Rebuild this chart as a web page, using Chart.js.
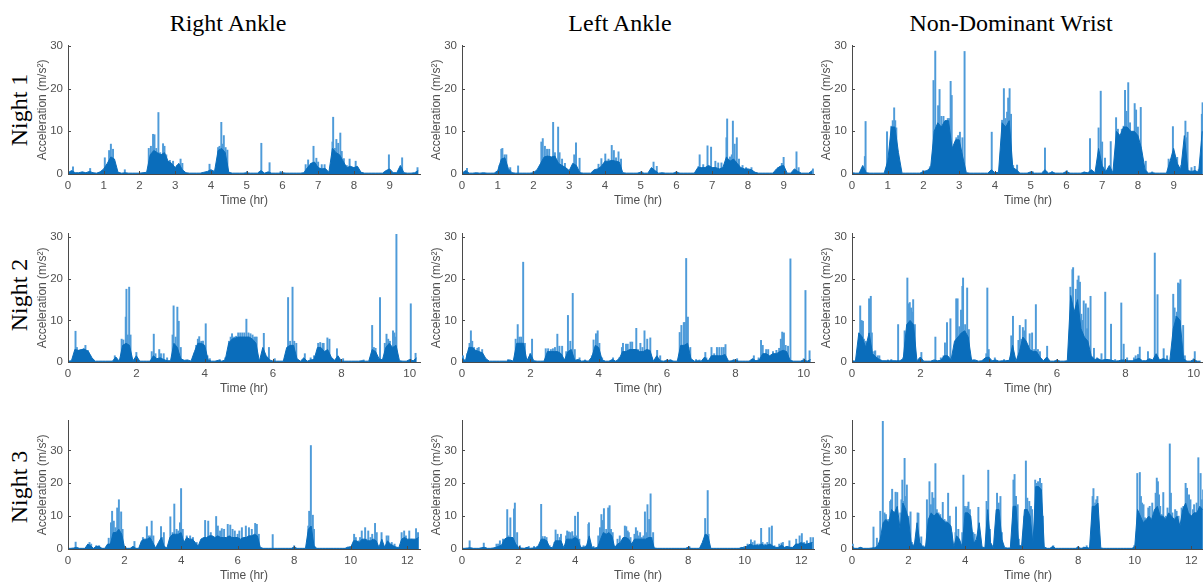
<!DOCTYPE html>
<html><head><meta charset="utf-8">
<script src="https://cdn.jsdelivr.net/npm/chart.js@4.4.1/dist/chart.umd.min.js"></script>
<style>
html,body{margin:0;padding:0;background:#fff;width:1203px;height:584px;overflow:hidden;position:relative;}
canvas{position:absolute;}
.title{position:absolute;font-family:"Liberation Serif","Times New Roman",serif;font-size:24px;color:#000;white-space:nowrap;transform:translateX(-50%);line-height:1;}
.night{position:absolute;font-family:"Liberation Serif","Times New Roman",serif;font-size:24px;color:#000;white-space:nowrap;transform:translate(-50%,-50%) rotate(-90deg);line-height:1;}
</style></head><body>
<div class="title" style="left:228px;top:11px">Right Ankle</div>
<div class="title" style="left:620px;top:11px">Left Ankle</div>
<div class="title" style="left:1011px;top:11px">Non-Dominant Wrist</div>
<div class="night" style="left:19px;top:110px">Night 1</div>
<div class="night" style="left:19px;top:295px">Night 2</div>
<div class="night" style="left:19px;top:487px">Night 3</div>
<canvas id="c11"></canvas><canvas id="c12"></canvas><canvas id="c13"></canvas>
<canvas id="c21"></canvas><canvas id="c22"></canvas><canvas id="c23"></canvas>
<canvas id="c31"></canvas><canvas id="c32"></canvas><canvas id="c33"></canvas>
<script>
// ---------- tick labels ----------
const yTicks = [0, 10, 20, 30];
const xTicksN1 = [0, 1, 2, 3, 4, 5, 6, 7, 8, 9];
const xTicksN2 = [0, 2, 4, 6, 8, 10];
const xTicksN3 = [0, 2, 4, 6, 8, 10, 12];
const xMaxN1 = 9.85, xMaxN2 = 10.3, xMaxN3 = 12.45;
const yMaxN1 = 30, yMaxN2 = 30.8, yMaxN3 = 39;
const BASE_STEP = 0.1; // hours between dense-activity samples

// ---------- Night 1 ----------
const ra1Base = [
0.3,0.8,0.3,0.3,0.5,0.3,0.6,0.3,0.2,0.5,
1.2,2.5,4,3.5,0.4,0.2,0.3,0.2,0.2,0.2,
0.2,0.3,0.4,4.5,5.5,5,4.5,5,3,2.5,
1.5,2.5,1,0.3,0.2,0.2,0.2,0.2,0.4,0.6,
1,0.6,5.5,6,5,0.4,0.2,0.2,0.2,0.2,
0.3,0.2,0.2,0.2,0.8,0.2,0.5,0.2,0.2,0.2,
0.3,0.2,0.2,0.2,0.2,0.2,0.3,1.5,2.5,2.8,
1.5,1.2,1.3,0.4,6,5,4.5,3,1.5,1.8,
1.5,1.8,0.4,0.2,0.2,0.2,0.2,0.2,0.2,0.8,
1.2,0.3,0.3,2,0.3,0.2,0.2,0.3,0.8];
const ra1Spikes = [[0.14,1.7],[0.62,1.3],[1.03,3.8],[1.15,5.5],[1.2,7],[1.26,5.8],[1.59,1],[2.26,6],[2.32,6.5],[2.38,9.3],[2.42,9.2],[2.47,6],[2.53,14.4],[2.58,5],[2.66,7.1],[2.7,6.5],[2.75,4.5],[2.85,3.2],[2.94,3],[3.05,2],[3.15,3.5],[3.2,2.5],[3.96,2.3],[4.2,6.2],[4.24,6.5],[4.29,12.1],[4.33,7],[4.36,9],[4.41,6.2],[4.46,5.6],[5.01,0.6],[5.41,7.2],[5.64,2.65],[5.95,0.6],[6.65,2.2],[6.72,3.3],[6.8,2.5],[6.87,6.5],[6.95,3.7],[7.0,2.8],[7.1,2.2],[7.18,2.2],[7.4,7.5],[7.42,13.3],[7.47,6],[7.51,8.1],[7.56,7.2],[7.62,9.6],[7.66,5.3],[7.72,3.6],[7.8,2],[7.88,3.5],[7.95,1.5],[8.05,3],[8.98,4.5],[9.35,3.8],[9.78,1.5]];

const la1Base = [
0.2,0.8,0.2,0.2,0.3,0.2,0.3,0.2,0.2,0.2,
0.8,3.5,3.8,1.2,0.3,0.2,0.2,0.2,0.2,0.2,
0.3,1,2.5,4,4.2,4,4.2,2.5,2,1.5,
0.8,2.5,2,0.3,0.2,0.2,0.2,1,1.2,1.8,
3,3,3.2,3,2.8,0.3,0.2,0.2,0.2,0.2,
0.4,0.2,0.2,1.5,0.8,0.2,0.3,0.2,0.2,0.2,
0.4,0.2,0.2,0.2,0.2,0.2,1.5,1.5,1.5,2,
1.5,1.5,1.2,1.5,4,3,3.5,2.5,1.5,1.2,
1.2,1,0.4,0.2,0.2,0.2,0.2,0.2,1.2,1.8,
2,0.2,0.2,1.2,0.6,0.2,0.2,0.2,0.8];
const la1Spikes = [[0.14,1.3],[1.05,2],[1.1,5.8],[1.13,6],[1.19,4.5],[1.24,4.5],[1.35,1.5],[1.57,1.9],[2.0,0.6],[2.22,7.5],[2.26,8.3],[2.32,6.5],[2.38,5.8],[2.44,5.8],[2.55,12.1],[2.6,5],[2.69,11],[2.73,5],[2.8,3.5],[2.88,2.5],[3.14,4.5],[3.19,7.3],[3.29,3.7],[3.82,2.3],[3.9,3.6],[4.01,4.7],[4.1,3.5],[4.19,6.7],[4.25,5.5],[4.31,3.8],[4.38,5.2],[4.45,3.5],[5.02,0.6],[5.36,2.8],[5.45,1.8],[6.0,0.6],[6.62,1.8],[6.65,4.5],[6.75,2.2],[6.87,6.6],[6.97,6.3],[7.09,3],[7.17,2.6],[7.26,2.6],[7.4,8.5],[7.42,12.9],[7.5,4],[7.55,4.5],[7.58,12.4],[7.63,7],[7.69,8.5],[7.75,3.5],[7.85,2],[7.95,1.5],[8.1,1.5],[8.85,1.5],[8.95,2.5],[9.0,3.9],[9.36,5.2],[9.42,1.5],[9.82,1.2]];

const wr1Base = [
0.3,0.2,0.2,2,0.3,0.2,0.2,0.2,0.2,0.2,
3,11,11,5,0.2,0.2,0.2,0.2,0.2,0.2,
0.6,0.8,1.5,10,12,11,12.5,12.5,6,8,
8,4,0.3,0.2,0.2,0.2,0.2,0.2,0.2,1,
0.3,0.4,12,11,12.5,1.5,1,0.2,0.2,0.2,
0.5,0.2,0.2,0.2,1,0.2,0.4,0.2,0.2,0.2,
0.6,0.2,0.2,0.2,0.2,0.4,0.3,1,0.3,6,
2,0.5,2,0.3,10,9,11,11,10,10,
9,6,1,0.2,0.3,0.2,0.2,0.2,0.2,3,
6,2.5,1,9,0.8,0.6,0.8,0.4,10];
const wr1Spikes = [[0.36,4.1],[0.38,12.3],[0.98,9.9],[1.1,11.2],[1.14,12.5],[1.18,15.5],[1.21,12.5],[1.24,10.8],[1.99,0.8],[2.18,1.7],[2.28,21.9],[2.33,28.8],[2.37,8.3],[2.41,16],[2.45,19.8],[2.5,13.5],[2.56,13.5],[2.62,11.7],[2.68,13],[2.72,13],[2.76,21.7],[2.79,18.4],[2.83,6],[2.92,8.5],[2.97,9],[3.02,9.8],[3.09,8.5],[3.15,28.7],[3.91,9.8],[4.2,12.6],[4.25,20],[4.29,13],[4.34,14.5],[4.37,17.8],[4.41,20],[4.45,14],[4.51,2],[4.62,2.1],[5.05,0.6],[5.4,6.1],[5.6,0.6],[6.01,0.8],[6.5,0.5],[6.66,8.3],[6.9,10.8],[6.96,19.4],[7.0,7.5],[7.08,3.7],[7.24,7.6],[7.39,13.2],[7.44,10.5],[7.5,8],[7.55,10.5],[7.6,11.2],[7.64,19.6],[7.68,14.7],[7.73,21.4],[7.78,12],[7.82,9],[7.91,16.5],[7.95,15],[8.0,11],[8.08,15.6],[8.22,3],[8.4,0.5],[8.86,3.5],[8.98,11.1],[9.04,3],[9.1,3.9],[9.21,2],[9.33,12.4],[9.36,8.5],[9.39,9.8],[9.5,1.5],[9.59,1.8],[9.7,1],[9.79,14],[9.81,16.7]];

// ---------- Night 2 ----------
const ra2Base = [
0.2,0.3,3,2.8,3,3,2.5,1,0.2,0.2,
0.2,0.2,0.2,0.2,1.2,0.2,4,4.5,4,0.3,
1.5,0.2,0.2,0.2,0.2,1.5,0.8,1,0.6,0.3,
0.3,4.5,3.5,0.8,0.4,0.5,0.2,2.5,4.5,4.5,
4,0.5,0.2,0.2,0.4,0.2,0.5,4.5,5.5,5.8,
6,6,6,6,5.5,4.5,0.2,3.5,1.5,0.5,
0.2,0.2,0.2,0.2,3.5,4,4,0.8,0.2,1,
0.2,0.5,0.6,3.5,3.5,2.5,3,1.2,0.4,1.5,
0.2,0.2,0.2,0.2,0.2,0.2,0.3,0.2,0.2,3,
2.5,0.8,0.5,3.5,4.5,3.5,4,0.3,0.2,0.2,
0.6,0.3,1];
const ra2Spikes = [[0.22,7.4],[0.26,3.5],[0.32,2.8],[0.4,3],[0.46,3.3],[0.51,4],[0.58,2.8],[0.65,1.5],[1.37,1.5],[1.57,5.5],[1.62,5.3],[1.69,10.8],[1.71,17.5],[1.75,6.5],[1.79,18],[1.83,6.5],[2.0,2.3],[2.45,2.5],[2.51,6.7],[2.56,2],[2.67,3],[2.72,2],[2.8,2],[2.9,1],[3.06,6.5],[3.09,13.5],[3.15,6],[3.2,13.2],[3.24,9.8],[3.3,3.5],[3.75,4],[3.8,5.5],[3.84,6.1],[3.9,5],[3.95,5],[4.03,9.2],[4.08,1.5],[4.15,0.8],[4.44,0.6],[4.6,1],[4.71,5],[4.76,6],[4.8,6.8],[4.86,6],[4.92,6.2],[4.98,7],[5.04,7],[5.1,7],[5.16,7],[5.22,10.3],[5.28,7],[5.34,6.8],[5.4,6.5],[5.45,6],[5.49,6],[5.52,6],[5.73,6.9],[5.88,3.5],[6.05,0.8],[6.44,15.5],[6.5,5],[6.57,18],[6.62,5],[6.68,4.5],[6.93,2],[7.1,1],[7.2,1.5],[7.32,4.5],[7.38,4.7],[7.45,4.5],[7.48,4.5],[7.55,2],[7.59,5.8],[7.65,5.5],[7.87,3.2],[8.05,0.8],[8.65,0.5],[8.9,8.8],[8.95,3.5],[9.0,3.3],[9.13,15.5],[9.27,4.5],[9.32,6.7],[9.37,5.5],[9.42,5],[9.51,7.5],[9.55,7],[9.58,6],[9.61,30.8],[10.03,14],[10.17,2.1]];

const la2Base = [
1,0.3,3.5,3.5,2.8,2.5,2.2,0.8,0.2,0.2,
0.2,0.2,0.2,0.2,0.5,0.2,4.5,4.5,4.5,0.3,
2,0.3,0.2,0.2,0.2,2.5,2.5,2.5,2.5,2,
0.5,2.5,3,0.4,0.6,0.2,0.3,0.2,1.2,4,
3.5,0.5,0.2,0.2,0.6,0.2,0.8,2.5,2.5,3,
3,3,2.5,2.5,3,2.8,0.2,1.5,0.3,0.2,
0.4,0.4,0.2,0.2,4,4,4.5,0.8,0.2,0.3,
0.2,1.2,0.2,1.5,1.5,1.5,1.5,1.8,0.2,0.3,
0.5,0.2,0.2,0.2,0.2,0.8,0.3,0.5,2,2,
1.5,2,2,2.5,2.8,2.5,0.4,0.2,0.2,0.2,
0.5,0.2,0.6];
const la2Spikes = [[0.03,1.5],[0.15,2],[0.22,4.5],[0.26,7.5],[0.3,5],[0.35,3.5],[0.45,3.3],[0.49,3.5],[0.59,3],[0.63,1],[1.35,0.6],[1.57,5.5],[1.63,9],[1.68,6],[1.73,6],[1.79,24],[1.84,4.5],[2.0,2],[2.05,5.5],[2.45,3.2],[2.52,3.2],[2.6,3],[2.66,3.2],[2.72,3.5],[2.79,6.7],[2.85,3.8],[2.93,3.8],[3.05,2.5],[3.1,11.2],[3.17,5],[3.24,16.5],[3.3,3],[3.44,1],[3.6,0.5],[3.8,1.5],[3.85,5.3],[3.92,6.8],[3.97,7.5],[4.02,4.5],[4.1,1],[4.42,1],[4.6,1],[4.68,3.5],[4.71,4.5],[4.8,4.3],[4.85,4.3],[4.93,4.8],[4.98,4.8],[5.04,3],[5.1,8.1],[5.15,3],[5.22,4.5],[5.28,3.5],[5.34,7.5],[5.42,5.5],[5.51,5.8],[5.55,1],[5.71,2.8],[5.8,1.5],[6.0,0.6],[6.1,0.6],[6.37,7.1],[6.42,8.8],[6.49,9.5],[6.52,9.5],[6.56,24.9],[6.61,10.8],[6.68,3.5],[6.85,0.6],[6.95,0.5],[7.12,2.3],[7.15,1],[7.3,3.5],[7.38,2],[7.46,3.5],[7.53,3.5],[7.6,3.5],[7.66,3.5],[7.71,4.2],[7.95,0.6],[8.05,0.8],[8.54,1.5],[8.68,1],[8.75,5.2],[8.8,4],[8.9,3],[8.96,3],[9.1,2.5],[9.2,2.8],[9.28,3.3],[9.33,5.5],[9.37,7.2],[9.42,7],[9.47,4],[9.54,3.8],[9.61,24.8],[10.0,0.8],[10.05,17.2],[10.17,2.7]];

const wr2Base = [
0.3,0.2,7,6,3.5,7,2,1.2,0.6,0.3,
0.3,0.3,0.3,0.3,0.3,0.8,9,10,9,0.3,
1.2,0.2,0.2,0.2,0.5,0.3,0.4,1.5,1.5,0.5,
5,6,7,7.5,6,0.4,0.5,0.2,0.3,1,
1.2,0.3,0.5,0.2,0.3,0.3,0.4,4,0.2,2.5,
6,5,3,2.5,2.5,1.2,0.3,1.2,0.2,0.2,
0.4,0.2,0.2,0.3,16,12,15,8,6,5,
1.5,0.6,0.8,0.4,0.6,0.6,0.4,0.2,0.3,0.5,
0.4,0.3,0.3,0.6,0.9,0.3,0.3,0.8,0.5,2,
0.5,0.8,0.6,0.3,8,11,10,0.8,0.2,0.2,
0.6,0.2,0.2];
const wr2Spikes = [[0.22,7],[0.24,13.5],[0.28,10],[0.32,9.8],[0.35,5.5],[0.4,5],[0.45,2],[0.5,15.2],[0.55,15.8],[0.58,7],[0.65,2.5],[0.68,2.7],[0.75,1.5],[0.8,1.5],[1.05,0.5],[1.15,0.6],[1.35,9],[1.5,1],[1.54,7.5],[1.62,20.2],[1.65,14],[1.69,14.3],[1.73,13],[1.76,12],[1.79,15],[1.84,9],[2.03,2.3],[2.44,6],[2.6,1],[2.68,1.5],[2.72,4.6],[2.78,9.5],[2.88,10.4],[3.05,15.2],[3.09,15.2],[3.14,8.5],[3.19,12.5],[3.23,18.2],[3.25,20.2],[3.31,9],[3.37,17.8],[3.42,7.8],[3.55,0.5],[3.93,2],[3.96,17.8],[4.0,3],[4.18,1],[4.45,0.6],[4.66,6.3],[4.71,11],[4.87,5.2],[4.91,8.8],[4.95,5.5],[5.0,8.3],[5.04,7.5],[5.08,10.2],[5.14,4],[5.2,6.8],[5.27,7],[5.33,3],[5.38,13.8],[5.44,3],[5.5,2.5],[5.71,3.8],[6.0,0.6],[6.39,18],[6.45,22.2],[6.47,22.7],[6.51,11],[6.55,17.5],[6.6,19.7],[6.63,20.7],[6.67,19.2],[6.71,11.5],[6.75,10],[6.78,14.7],[6.84,14],[6.88,8],[6.91,13],[6.98,15.8],[7.08,3.3],[7.17,1],[7.3,2],[7.41,16.8],[7.58,9.1],[7.7,0.6],[7.88,14.2],[7.95,4.3],[8.05,1],[8.25,1],[8.3,1.5],[8.37,1.8],[8.42,3.6],[8.66,2.5],[8.86,26.2],[8.94,16.2],[9.12,3.2],[9.22,1.5],[9.4,16.3],[9.44,13],[9.48,11],[9.51,12],[9.54,19],[9.57,15.5],[9.59,18.8],[9.61,19.8],[9.69,8.8],[9.74,1.5],[10.0,0.8],[10.03,2.5]];

// ---------- Night 3 ----------
const ra3Base = [
0.2,0.2,0.3,0.5,0.2,0.2,0.2,1.5,1,0.2,
0.8,0.8,0.2,0.2,1.5,1.5,5,5,6,4.5,
0.5,0.2,0.2,0.8,0.2,0.2,2.5,3,3,3.5,
2,0.3,2,3.5,0.8,0.3,3.5,4.5,4.5,4.5,
5,2,3.5,3,3,2,0.8,3,3.5,3.5,
4,4,3.5,4,3.5,3.5,3.5,4,3.5,3.5,
3.5,3,3.5,3.5,4,4,4.5,4,0.5,0.2,
0.2,0.2,0.2,0.2,0.2,0.2,0.2,0.2,0.2,0.2,
0.6,0.2,0.2,0.2,0.2,6,7,1,0.2,0.2,
0.2,0.2,0.2,0.2,0.2,0.2,0.2,0.2,0.2,0.6,
0.5,2.5,2.5,2,3,3,2.5,2.5,3,2.5,
0.5,3,0.5,2.5,1.5,1,0.6,0.4,3,3.5,
3,3,3,3,3.5];
const ra3Spikes = [[0.27,2.1],[0.76,2],[0.82,1.5],[1.0,1],[1.1,1],[1.44,3.3],[1.52,8],[1.56,11.5],[1.62,8.5],[1.68,6.5],[1.74,12.5],[1.8,15],[1.88,11.3],[1.93,6],[2.35,2.3],[2.65,3.5],[2.79,6.8],[2.85,4],[2.91,4],[2.96,8.5],[3.02,4],[3.29,6.8],[3.35,3.5],[3.39,5],[3.62,9.8],[3.7,5],[3.76,13.7],[3.84,6],[3.9,5.5],[3.96,8],[4.0,18.4],[4.06,6],[4.2,4],[4.32,4],[4.42,3.5],[4.55,2],[4.85,8.7],[4.96,8.5],[5.05,5],[5.24,9.9],[5.3,7],[5.38,5.5],[5.44,6.2],[5.52,6],[5.65,7.5],[5.74,7.3],[5.82,6],[5.9,5.5],[6.0,4.5],[6.06,5.5],[6.15,6.5],[6.29,7],[6.4,6.5],[6.5,6],[6.62,7.8],[6.68,7.5],[6.75,4.5],[7.24,4.4],[8.0,1],[8.5,7],[8.53,11.5],[8.59,31.5],[8.66,10.3],[8.7,6],[9.98,0.8],[10.12,4.5],[10.18,3.5],[10.28,2.5],[10.33,3.5],[10.39,5.5],[10.51,6.5],[10.56,3],[10.62,5.5],[10.7,3.5],[10.76,4.5],[10.86,7.8],[10.92,5],[11.09,5],[11.27,4],[11.33,4],[11.45,2],[11.55,1.5],[11.8,5],[11.89,5.5],[11.95,4],[12.07,5.5],[12.15,3],[12.22,2.5],[12.31,6.2],[12.38,5]];

const la3Base = [
0.2,0.2,0.3,0.4,0.2,0.2,0.2,0.4,0.5,0.2,
0.2,0.3,0.5,0.8,1.2,3,3.5,3.5,3.5,1.5,
0.5,0.3,0.2,0.5,0.2,0.3,0.4,1,3,3,
2.5,0.5,0.4,2.5,2.5,2.5,0.4,3,3,3,
3.5,3,0.5,0.5,0.8,4,0.4,0.3,0.5,3,
5,4.5,5,4,0.5,1.5,2,3.5,3.5,3,
1.5,3,3,3,3,3,3.5,3.5,0.3,0.2,
0.2,0.2,0.2,0.2,0.2,0.2,0.2,0.2,0.2,0.2,
0.5,0.2,0.2,0.2,0.2,2,4.5,4,0.2,0.2,
0.2,0.2,0.2,0.2,0.2,0.2,0.2,0.2,0.2,0.5,
0.3,1,1.5,1,1.2,1,1.5,1,1.2,1.5,
0.8,0.5,0.5,1.2,0.5,0.8,0.5,0.5,1.5,1.5,
2,1.5,1.5,1.8,2];
const la3Spikes = [[0.27,2.5],[0.77,1.8],[1.22,1.5],[1.28,1.5],[1.34,2.5],[1.45,3],[1.6,12],[1.65,4],[1.71,9.5],[1.76,3.5],[1.84,12.2],[1.87,14],[1.95,5],[2.05,1],[2.36,0.8],[2.55,0.8],[2.75,1.5],[2.8,13.6],[2.85,3.8],[2.93,3.8],[2.99,3.5],[3.1,1],[3.27,2],[3.31,5.8],[3.38,4.5],[3.46,3.5],[3.5,4.5],[3.68,4],[3.72,5.5],[3.78,5.2],[3.84,5],[3.9,5.3],[3.95,4],[4.0,10],[4.04,4],[4.1,11.2],[4.15,3],[4.3,1],[4.4,1],[4.47,7.5],[4.49,8],[4.65,0.8],[4.82,4],[4.88,6.5],[4.93,10.5],[4.98,8.7],[5.02,12.3],[5.1,6],[5.17,12.5],[5.22,13.2],[5.27,6],[5.33,5],[5.5,3],[5.58,4],[5.7,3],[5.76,7],[5.81,6.8],[5.86,5.5],[5.9,5],[5.96,3.5],[6.1,4.5],[6.15,6.5],[6.2,5.5],[6.25,4],[6.3,5],[6.36,3.5],[6.42,4],[6.47,11.3],[6.52,5],[6.56,13.5],[6.62,9],[6.67,16.8],[6.72,3.5],[6.76,5],[8.04,0.8],[8.55,2.5],[8.6,9.3],[8.64,4.5],[8.69,17.8],[8.72,4.5],[9.99,0.8],[10.1,1.5],[10.22,2.8],[10.28,2],[10.35,2.5],[10.45,1.5],[10.52,1.5],[10.58,6.3],[10.63,2],[10.72,1.5],[10.8,2],[10.87,6.5],[10.96,7],[11.05,1],[11.22,1.5],[11.3,1.8],[11.35,2],[11.58,2.5],[11.82,3],[11.94,4],[12.02,4.7],[12.1,2],[12.2,2.5],[12.33,3.5],[12.42,3.5]];

const wr3Base = [
0.5,0.2,0.2,0.5,0.2,0.2,0.2,0.3,0.4,0.8,
3,8,9,8,12,11,13,6,14,12,
9,1.5,0.8,8,2,0.6,0.6,9,11,10,
11,10,9,8,8,7,0.6,4,3,0.5,
11,11,10,1.5,3,8,0.6,0.4,12,2,
0.4,12,12,3,0.4,0.3,0.3,13,13,1,
1,12,12,10,1.5,19,19,18,0.6,0.2,
0.2,0.8,0.2,0.2,0.2,0.2,0.2,0.2,0.2,0.2,
0.5,0.2,0.4,0.5,0.2,13,13,14,0.3,0.2,
0.2,0.2,0.2,0.2,0.2,0.2,0.2,0.2,0.2,0.2,
0.6,12,10,8,9,10,9,12,13,10,
10,9,11,10,9,10,7,12,14,11,
10,11,11,13,12];
const wr3Spikes = [[0.03,1.5],[0.3,0.5],[0.76,6.7],[0.88,3.3],[1.0,11.5],[1.09,39],[1.15,11],[1.2,10.5],[1.28,9],[1.35,14.5],[1.38,15],[1.42,18.2],[1.48,10],[1.54,17.3],[1.6,17.2],[1.65,6],[1.71,11],[1.75,15],[1.78,21],[1.82,14.5],[1.86,27.6],[1.9,16],[1.94,19.5],[2.0,10],[2.07,11.3],[2.12,2],[2.2,1.5],[2.32,11],[2.35,10.9],[2.45,3.7],[2.52,1],[2.65,15],[2.7,9],[2.74,20.5],[2.79,13.5],[2.84,17.2],[2.89,15.5],[2.95,26],[3.0,12],[3.06,11],[3.12,10.5],[3.21,14.2],[3.27,9],[3.32,8.5],[3.36,8],[3.4,17],[3.46,10],[3.52,5],[3.66,5],[3.68,12.8],[3.76,6],[3.9,5],[3.94,22.5],[3.99,13],[4.04,12.5],[4.08,13],[4.12,14.3],[4.17,12],[4.22,4.5],[4.29,5],[4.34,4.5],[4.47,12.7],[4.76,14.5],[4.82,24],[4.88,6],[5.13,17],[5.19,14],[5.25,16],[5.3,5],[5.71,21],[5.75,22.7],[5.8,16],[5.86,13.5],[5.9,3],[6.05,4],[6.1,10],[6.15,26.8],[6.2,15.5],[6.27,14.5],[6.33,13],[6.37,12],[6.42,5],[6.48,21],[6.53,20],[6.58,20.5],[6.65,21.5],[6.7,20],[6.75,10],[7.12,1],[8.0,0.8],[8.2,0.6],[8.3,1],[8.51,16],[8.54,18.4],[8.6,14],[8.64,15],[8.68,16],[9.98,1],[10.09,23],[10.18,23.3],[10.22,16],[10.26,14],[10.31,13.5],[10.36,9.5],[10.42,8],[10.48,12.5],[10.53,13],[10.57,8],[10.62,14],[10.68,10],[10.74,17],[10.78,21.6],[10.82,20.5],[10.86,16.5],[10.9,13],[10.95,10.5],[11.01,17.2],[11.05,8],[11.1,10],[11.16,12.5],[11.24,32],[11.28,17],[11.33,11],[11.38,9],[11.43,12],[11.48,11.5],[11.55,10],[11.6,6],[11.66,12.5],[11.72,13],[11.8,20],[11.85,18.5],[11.92,16.5],[11.97,15],[12.02,10],[12.06,12],[12.1,13.5],[12.14,9.5],[12.19,14],[12.25,27.8],[12.33,23],[12.37,15],[12.42,18]];

// ---------- drawing ----------
const DARK = '#0a6dbb', LIGHT = '#4e9bd9', AXIS = '#4a4a4a', TICK = '#505050';
const FONT = '"Liberation Sans", Arial, sans-serif';
const PLOT_W = 352, PLOT_H = 134, YAX_W = 36, XAX_H = 34, PAD_T = 6, PAD_R = 6;
const colLeft = [68, 462, 852];
const rowTop = [40, 228, 415];

// MATLAB-style inward tick marks, placed with the chart's own scales
const inwardTicks = {
  id: 'inwardTicks',
  afterDraw(chart) {
    const {ctx, chartArea: a, scales: {x, y}} = chart;
    ctx.save();
    ctx.strokeStyle = AXIS; ctx.lineWidth = 1;
    ctx.beginPath();
    x.ticks.forEach(t => { const px = Math.round(x.getPixelForValue(t.value)) + 0.5; ctx.moveTo(px, a.bottom); ctx.lineTo(px, a.bottom - 3); });
    y.ticks.forEach(t => { const py = Math.round(y.getPixelForValue(t.value)) + 0.5; ctx.moveTo(a.left, py); ctx.lineTo(a.left + 3, py); });
    ctx.stroke();
    ctx.restore();
  }
};

function makeChart(id, col, row, base, spikes, xMax, yMax, xTicks) {
  const cv = document.getElementById(id);
  const w = YAX_W + PLOT_W + PAD_R, h = PAD_T + PLOT_H + XAX_H;
  cv.width = w; cv.height = h;
  cv.style.left = (colLeft[col] - YAX_W) + 'px';
  cv.style.top = (rowTop[row] - PAD_T) + 'px';
  const baseData = base.map((v, i) => ({x: Math.round(i * BASE_STEP * 100) / 100, y: v}));
  const spikeData = spikes.map(p => ({x: p[0], y: p[1]}));
  const tickFont = {family: FONT, size: 11.5};
  const titleFont = {family: FONT, size: 12};
  new Chart(cv, {
    type: 'line',
    data: {datasets: [
      {type: 'line', data: baseData, borderColor: DARK, backgroundColor: DARK, borderWidth: 1,
       fill: 'origin', pointRadius: 0, tension: 0, order: 1},
      {type: 'bar', data: spikeData, backgroundColor: LIGHT, borderWidth: 0, barThickness: 1.3, order: 2}
    ]},
    options: {
      responsive: false, animation: false, maintainAspectRatio: false, devicePixelRatio: 1,
      layout: {padding: {top: PAD_T, right: PAD_R, left: 0, bottom: 0}},
      plugins: {legend: {display: false}, tooltip: {enabled: false}},
      scales: {
        x: {type: 'linear', min: 0, max: xMax, offset: false,
            grid: {display: false, drawTicks: false}, border: {display: true, color: AXIS, width: 1},
            afterBuildTicks: s => { s.ticks = xTicks.map(v => ({value: v})); },
            afterFit: s => { s.height = XAX_H; },
            ticks: {padding: 5, color: TICK, font: tickFont, maxRotation: 0, autoSkip: false},
            title: {display: true, text: 'Time (hr)', color: TICK, font: titleFont, padding: 0}},
        y: {type: 'linear', min: 0, max: yMax,
            grid: {display: false, drawTicks: false}, border: {display: true, color: AXIS, width: 1},
            afterBuildTicks: s => { s.ticks = yTicks.map(v => ({value: v})); },
            afterFit: s => { s.width = YAX_W; },
            ticks: {padding: 5, color: TICK, font: tickFont, autoSkip: false},
            title: {display: true, text: 'Acceleration (m/s²)', color: TICK, font: titleFont, padding: {top: 3, bottom: 0}}}
      }
    },
    plugins: [inwardTicks]
  });
}

makeChart('c11', 0, 0, ra1Base, ra1Spikes, xMaxN1, yMaxN1, xTicksN1);
makeChart('c12', 1, 0, la1Base, la1Spikes, xMaxN1, yMaxN1, xTicksN1);
makeChart('c13', 2, 0, wr1Base, wr1Spikes, xMaxN1, yMaxN1, xTicksN1);
makeChart('c21', 0, 1, ra2Base, ra2Spikes, xMaxN2, yMaxN2, xTicksN2);
makeChart('c22', 1, 1, la2Base, la2Spikes, xMaxN2, yMaxN2, xTicksN2);
makeChart('c23', 2, 1, wr2Base, wr2Spikes, xMaxN2, yMaxN2, xTicksN2);
makeChart('c31', 0, 2, ra3Base, ra3Spikes, xMaxN3, yMaxN3, xTicksN3);
makeChart('c32', 1, 2, la3Base, la3Spikes, xMaxN3, yMaxN3, xTicksN3);
makeChart('c33', 2, 2, wr3Base, wr3Spikes, xMaxN3, yMaxN3, xTicksN3);
</script>
</body></html>
